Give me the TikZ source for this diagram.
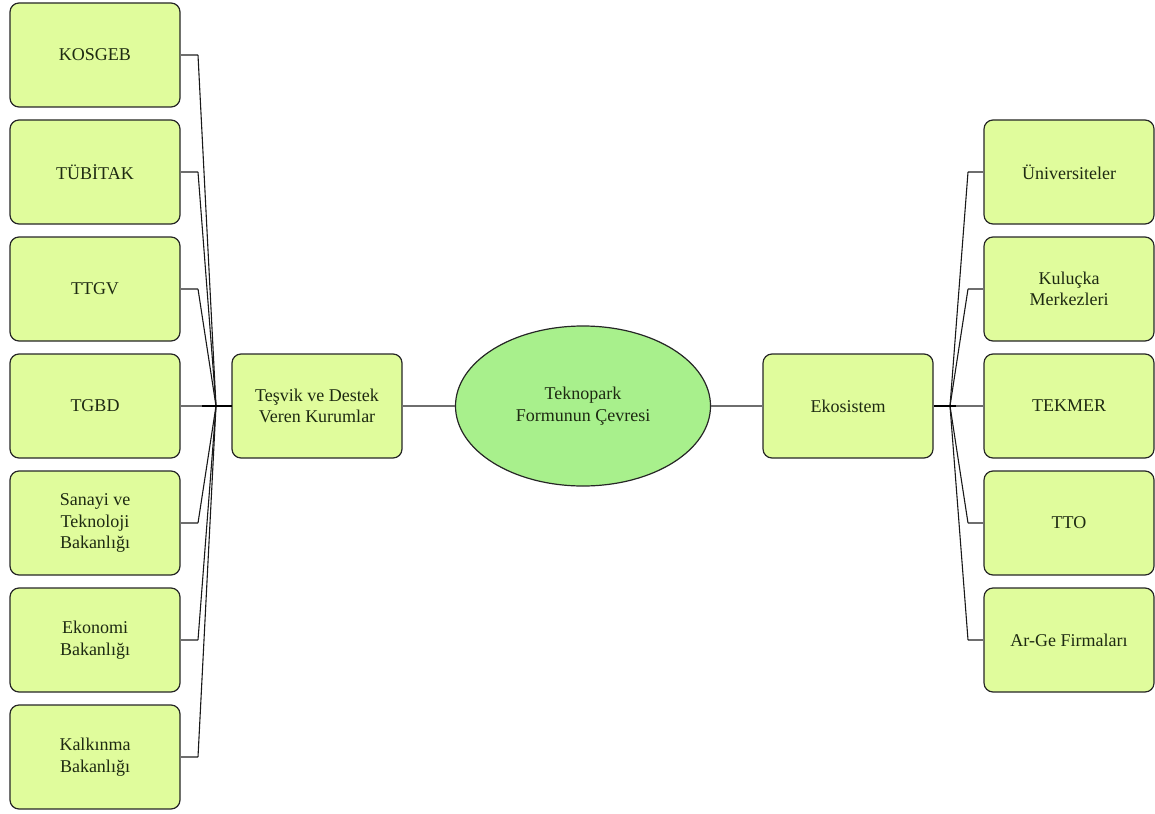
\documentclass[tikz,border=0pt]{standalone}
\usepackage{fontspec}
\setmainfont{Liberation Serif}
\usetikzlibrary{shapes.geometric}
\definecolor{boxfill}{HTML}{E0FC9C}
\definecolor{ellfill}{HTML}{A8F08C}
\definecolor{txt}{HTML}{1E2A12}
\definecolor{stubgray}{HTML}{6E6E6E}
\tikzset{
  box/.style={draw=black!85, line width=1.2pt, rounded corners=9pt, fill=boxfill,
    minimum width=170pt, minimum height=104pt, align=center, inner sep=2pt,
    text=txt, font=\fontsize{18}{21.5}\selectfont},
  ell/.style={ellipse, draw=black!85, line width=1.2pt, fill=ellfill,
    minimum width=255pt, minimum height=160pt, align=center, inner sep=0pt,
    text=txt, font=\fontsize{18}{21.5}\selectfont},
  stub/.style={draw=stubgray, line width=2pt},
  diag/.style={draw=black!90, line width=1.1pt},
  hub/.style={draw=black, line width=2.4pt},
}
\begin{document}
\begin{tikzpicture}[x=1pt,y=-1pt]
\useasboundingbox (0,0) rectangle (1155,813);
% left column
\node[box] (kosgeb) at (95,55) {KOSGEB};
\node[box] (tubitak) at (95,172) {TÜBİTAK};
\node[box] (ttgv) at (95,289) {TTGV};
\node[box] (tgbd) at (95,406) {TGBD};
\node[box] (sanayi) at (95,523) {Sanayi ve\\Teknoloji\\Bakanlığı};
\node[box] (ekonomi) at (95,640) {Ekonomi\\Bakanlığı};
\node[box] (kalkinma) at (95,757) {Kalkınma\\Bakanlığı};
% center
\node[box] (tesvik) at (317,406) {Teşvik ve Destek\\Veren Kurumlar};
\node[ell] (tek) at (583,406) {Teknopark\\Formunun Çevresi};
\node[box] (eko) at (848,406) {Ekosistem};
% right column
\node[box] (uni) at (1069,172) {Üniversiteler};
\node[box] (kulucka) at (1069,289) {Kuluçka\\Merkezleri};
\node[box] (tekmer) at (1069,406) {TEKMER};
\node[box] (tto) at (1069,523) {TTO};
\node[box] (arge) at (1069,640) {Ar-Ge Firmaları};
% junctions
\coordinate (jl) at (216,406);
\coordinate (exl) at (198,406);
\coordinate (jr) at (950,406);
\coordinate (exr) at (968,406);
% left connectors
\foreach \n in {kosgeb,tubitak,ttgv,sanayi,ekonomi,kalkinma}{
  \draw[stub] (\n.east) -- (\n.east -| exl);
  \draw[diag] (\n.east -| exl) -- (jl);
}
\draw[stub] (tgbd.east) -- (jl) -- (tesvik.west);
\draw[hub] (jl) ++(-14,0) -- ++(30,0);
% center connectors
\draw[stub] (tesvik.east) -- (tek.west);
\draw[stub] (tek.east) -- (eko.west);
% right connectors
\foreach \n in {uni,kulucka,tto,arge}{
  \draw[stub] (\n.west) -- (\n.west -| exr);
  \draw[diag] (\n.west -| exr) -- (jr);
}
\draw[stub] (jr) -- (tekmer.west);
\draw[hub] (eko.east) -- (jr) -- ++(6,0);
\end{tikzpicture}
\end{document}
